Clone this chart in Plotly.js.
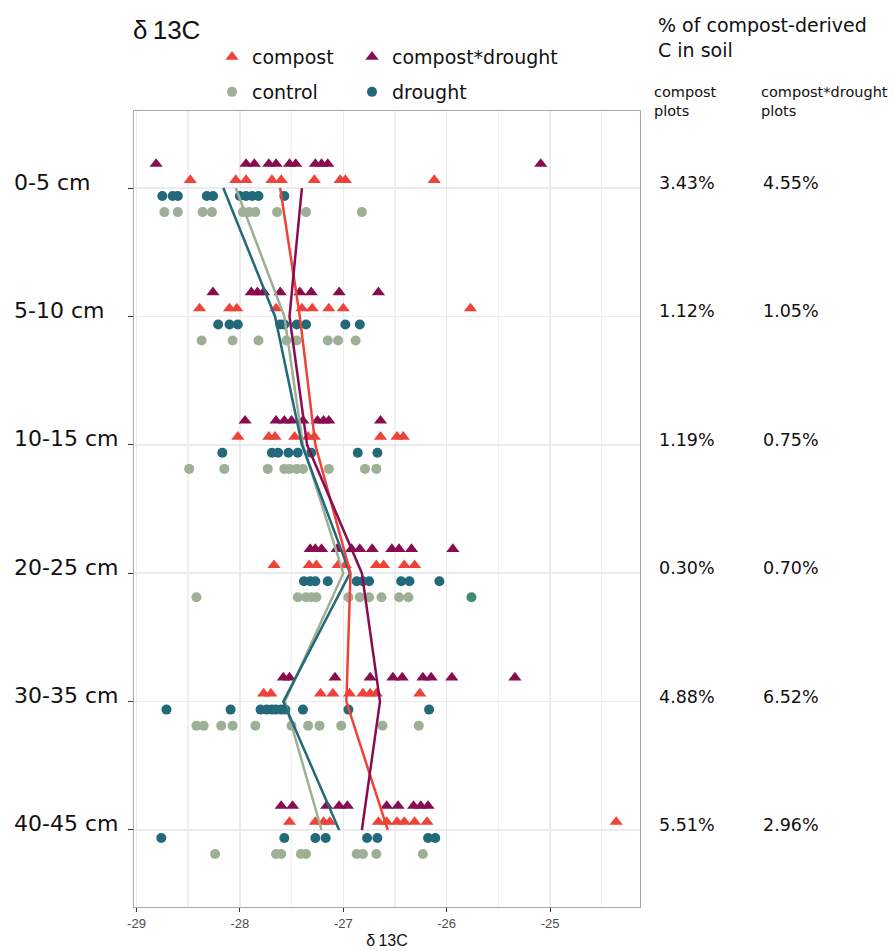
<!DOCTYPE html>
<html>
<head>
<meta charset="utf-8">
<script src="https://cdn.plot.ly/plotly-3.0.1.min.js"></script>
<style>html,body{margin:0;padding:0;background:#fff;}#chart{width:896px;height:951px;}</style>
</head>
<body>
<div id="chart"></div>
<script>
// ---------------- data ----------------
const depths = ["0-5 cm", "5-10 cm", "10-15 cm", "20-25 cm", "30-35 cm", "40-45 cm"];

const compostVals = [
  [-28.48, -28.04, -27.94, -27.69, -27.60, -27.28, -27.03, -26.98, -26.12],
  [-28.39, -28.10, -28.03, -27.65, -27.40, -27.30, -27.14, -27.00, -25.77],
  [-28.02, -27.72, -27.66, -27.47, -27.34, -27.28, -26.64, -26.48, -26.42],
  [-27.67, -27.33, -27.26, -27.05, -26.98, -26.68, -26.61, -26.41, -26.31],
  [-27.77, -27.70, -27.22, -27.10, -26.94, -26.81, -26.74, -26.68, -26.26],
  [-27.52, -27.27, -27.19, -27.13, -26.66, -26.58, -26.48, -26.41, -26.31, -26.19, -24.36]
];
const compostDroughtVals = [
  [-28.81, -27.94, -27.86, -27.72, -27.65, -27.52, -27.46, -27.27, -27.21, -27.15, -25.09],
  [-28.26, -27.89, -27.83, -27.77, -27.61, -27.42, -27.31, -27.04, -26.66],
  [-27.95, -27.65, -27.57, -27.50, -27.39, -27.25, -27.19, -27.14, -26.64],
  [-27.32, -27.27, -27.21, -27.06, -26.92, -26.84, -26.72, -26.53, -26.46, -26.34, -25.94],
  [-27.58, -27.52, -27.08, -26.74, -26.52, -26.43, -26.23, -26.15, -25.95, -25.34],
  [-27.60, -27.49, -27.16, -27.04, -26.96, -26.58, -26.47, -26.32, -26.25, -26.18]
];
const droughtVals = [
  [-28.75, -28.65, -28.60, -28.32, -28.26, -28.00, -27.94, -27.88, -27.82, -27.57],
  [-28.21, -28.10, -28.02, -27.61, -27.57, -27.45, -27.36, -26.98, -26.84],
  [-28.17, -27.69, -27.63, -27.53, -27.44, -27.31, -26.86, -26.67],
  [-27.38, -27.32, -27.27, -27.15, -26.87, -26.81, -26.75, -26.44, -26.36, -26.07],
  [-28.71, -28.09, -27.80, -27.74, -27.69, -27.65, -27.60, -27.56, -27.39, -26.95, -26.17],
  [-28.76, -27.57, -27.27, -27.17, -26.77, -26.67, -26.18, -26.11]
];
const controlVals = [
  [-28.73, -28.60, -28.36, -28.27, -27.97, -27.91, -27.85, -27.64, -27.36, -26.82],
  [-28.37, -28.07, -27.82, -27.55, -27.45, -27.15, -27.05, -26.88],
  [-28.49, -28.15, -27.73, -27.57, -27.52, -27.45, -27.39, -27.14, -26.79, -26.68],
  [-28.42, -27.44, -27.36, -27.31, -27.26, -26.95, -26.84, -26.75, -26.63, -26.46, -26.37, -25.76],
  [-28.42, -28.35, -28.18, -28.07, -27.85, -27.50, -27.34, -27.23, -27.02, -26.62, -26.27],
  [-28.24, -27.65, -27.60, -27.41, -27.36, -26.87, -26.81, -26.68, -26.23]
];

// mean lines
const meanCompost        = [-27.61, -27.42, -27.27, -26.93, -26.97, -26.57];
const meanCompostDrought = [-27.40, -27.52, -27.35, -26.82, -26.645, -26.82];
const meanControl        = [-28.04, -27.57, -27.39, -27.00, -27.565, -27.21];
const meanDrought        = [-28.16, -27.66, -27.40, -26.935, -27.58, -27.04];

// % of compost-derived C in soil
const pctCompost        = ["3.43%", "1.12%", "1.19%", "0.30%", "4.88%", "5.51%"];
const pctCompostDrought = ["4.55%", "1.05%", "0.75%", "0.70%", "6.52%", "2.96%"];

const xTicks = [-29, -28, -27, -26, -25];

// ---------------- styling ----------------
const C_COMPOST = "#EF4238";
const C_CD = "#870D50";
const C_CONTROL = "#9DAF95";
const C_DROUGHT = "#22697A";
const C_ODD = "#3F8B70";

const L = 134, R = 256, T = 111, B = 44, W = 896, H = 951;
const PW = W - L - R, PH = H - T - B;
const px2x = p => (p - L) / PW;
const px2y = p => (H - B - p) / PH;

function pointTrace(name, vals, offset, symbol, color, size, legend) {
  const x = [], y = [];
  vals.forEach((row, i) => row.forEach(v => { x.push(v); y.push(i + offset); }));
  return {
    type: "scatter", mode: "markers", name: name, x: x, y: y,
    marker: { symbol: symbol, color: color, size: size, line: { width: 0 } },
    legend: legend, hoverinfo: "x"
  };
}
function meanTrace(name, means, color) {
  return {
    type: "scatter", mode: "lines", name: name + " mean",
    x: means, y: means.map((_, i) => i),
    line: { color: color, width: 2.5 }, showlegend: false, hoverinfo: "x"
  };
}

const tCompost = pointTrace("compost", compostVals, -0.0625, "triangle-up", C_COMPOST, 11.5, "legend");
const tCD = pointTrace("compost*drought", compostDroughtVals, -0.1875, "triangle-up", C_CD, 11.5, "legend2");
const tControl = pointTrace("control", controlVals, 0.1875, "circle", C_CONTROL, 10, "legend3");
const tDrought = pointTrace("drought", droughtVals, 0.0625, "circle", C_DROUGHT, 10, "legend4");
// one control point in 20-25 cm is drawn in a darker green in the reference
tControl.marker.color = tControl.x.map((v, k) => (tControl.y[k] > 3 && tControl.y[k] < 4 && v > -25.9) ? C_ODD : C_CONTROL);

const traces = [
  tCompost, tCD, tControl, tDrought,
  meanTrace("control", meanControl, C_CONTROL),
  meanTrace("drought", meanDrought, C_DROUGHT),
  meanTrace("compost", meanCompost, C_COMPOST),
  meanTrace("compost*drought", meanCompostDrought, C_CD)
];

const SANS = "DejaVu Sans, Verdana, sans-serif";
const ARIAL = "Liberation Sans, Arial, sans-serif";

const annotations = [];
depths.forEach((d, i) => {
  annotations.push({ text: d, xref: "paper", yref: "y", x: px2x(12), y: i, xanchor: "left", yanchor: "middle",
    yshift: 6, showarrow: false, font: { family: SANS, size: 22, color: "#111" } });
  annotations.push({ text: pctCompost[i], xref: "paper", yref: "y", x: px2x(657), y: i, xanchor: "left", yanchor: "middle",
    yshift: 5, showarrow: false, font: { family: SANS, size: 17.5, color: "#111" } });
  annotations.push({ text: pctCompostDrought[i], xref: "paper", yref: "y", x: px2x(761), y: i, xanchor: "left", yanchor: "middle",
    yshift: 5, showarrow: false, font: { family: SANS, size: 17.5, color: "#111" } });
});
annotations.push({ text: "% of compost-derived<br>C in soil", xref: "paper", yref: "paper", x: px2x(656), y: px2y(12),
  xanchor: "left", yanchor: "top", align: "left", showarrow: false, font: { family: SANS, size: 19, color: "#111" } });
annotations.push({ text: "compost<br>plots", xref: "paper", yref: "paper", x: px2x(652), y: px2y(82),
  xanchor: "left", yanchor: "top", align: "left", showarrow: false, font: { family: SANS, size: 14.5, color: "#111" } });
annotations.push({ text: "compost*drought<br>plots", xref: "paper", yref: "paper", x: px2x(759), y: px2y(82),
  xanchor: "left", yanchor: "top", align: "left", showarrow: false, font: { family: SANS, size: 14.5, color: "#111" } });

const legendBase = {
  orientation: "h", xanchor: "left", yanchor: "middle", bgcolor: "rgba(0,0,0,0)",
  font: { family: SANS, size: 19, color: "#111" },
  itemclick: false, itemdoubleclick: false, traceorder: "normal"
};
const leg = (px, py) => Object.assign({}, legendBase, { x: px2x(px), y: px2y(py) });

const layout = {
  width: W, height: H,
  margin: { l: L, r: R, t: T, b: B, pad: 0 },
  paper_bgcolor: "#fff", plot_bgcolor: "#fff",
  title: { text: "δ\u200913C", x: 133 / W, xref: "container", xanchor: "left",
    y: 1 - 30 / H, yref: "container", yanchor: "middle", font: { family: ARIAL, size: 26, color: "#111" } },
  xaxis: {
    range: [-29.024, -24.13], tickvals: xTicks, ticktext: xTicks.map(String),
    ticks: "outside", ticklen: 4, tickwidth: 1, tickcolor: "#333",
    tickfont: { family: ARIAL, size: 13, color: "#4D4D4D" },
    showgrid: true, gridcolor: "#EBEBEB", gridwidth: 1.4,
    minor: { dtick: 0.5, tick0: -29, showgrid: true, gridcolor: "#F0F0F0", gridwidth: 1.4, ticks: "" },
    showline: true, mirror: true, linecolor: "#A8A8A8", linewidth: 1.2, zeroline: false,
    title: { text: "δ\u200913C", standoff: 5, font: { family: ARIAL, size: 16, color: "#111" } },
    fixedrange: true
  },
  yaxis: {
    range: [5.6, -0.6], tickvals: depths.map((_, i) => i), showticklabels: false,
    ticks: "outside", ticklen: 5, tickwidth: 1, tickcolor: "#333",
    showgrid: true, gridcolor: "#EBEBEB", gridwidth: 1.4,
    showline: true, mirror: true, linecolor: "#A8A8A8", linewidth: 1.2, zeroline: false,
    fixedrange: true
  },
  legend: leg(212, 57),
  legend2: leg(352, 57),
  legend3: leg(212, 92),
  legend4: leg(352, 92),
  annotations: annotations,
  showlegend: true
};

Plotly.newPlot("chart", traces, layout, { displayModeBar: false, staticPlot: true });
</script>
</body>
</html>
